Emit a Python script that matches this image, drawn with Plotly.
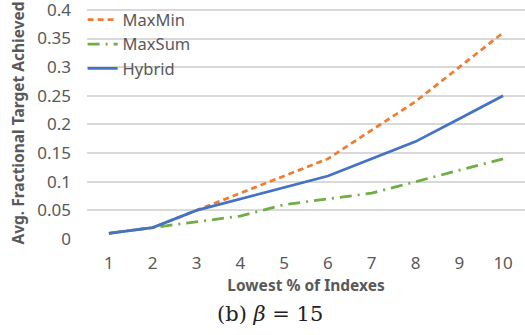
import plotly.graph_objects as go

categories = ["1", "2", "3", "4", "5", "6", "7", "8", "9", "10"]
maxmin = [0.01, 0.02, 0.05, 0.08, 0.11, 0.14, 0.19, 0.24, 0.30, 0.36]
maxsum = [0.01, 0.02, 0.03, 0.04, 0.06, 0.07, 0.08, 0.10, 0.12, 0.14]
hybrid = [0.01, 0.02, 0.05, 0.07, 0.09, 0.11, 0.14, 0.17, 0.21, 0.25]
y_ticks = [0, 0.05, 0.1, 0.15, 0.2, 0.25, 0.3, 0.35, 0.4]
y_tick_labels = ["0", "0.05", "0.1", "0.15", "0.2", "0.25", "0.3", "0.35", "0.4"]

fig = go.Figure()
fig.add_trace(go.Scatter(x=categories, y=maxmin, name="MaxMin", mode="lines",
                         line=dict(color="#ED7D31", width=2.75, dash="6px,4px")))
fig.add_trace(go.Scatter(x=categories, y=maxsum, name="MaxSum", mode="lines",
                         line=dict(color="#70AD47", width=2.75, dash="12px,6px,2px,6px")))
fig.add_trace(go.Scatter(x=categories, y=hybrid, name="Hybrid", mode="lines",
                         line=dict(color="#4472C4", width=2.75)))

font_family = "Noto Sans, Open Sans, Liberation Sans, sans-serif"
fig.update_layout(
    width=525, height=335,
    margin=dict(l=87, r=0, t=7, b=96, autoexpand=False),
    paper_bgcolor="white", plot_bgcolor="white",
    font=dict(family=font_family, color="#595959", size=17),
    showlegend=True,
    legend=dict(x=-0.01, y=1.02, xanchor="left", yanchor="top",
                bgcolor="rgba(0,0,0,0)", font=dict(size=16.5, color="#595959"),
                itemwidth=30, tracegroupgap=0),
    xaxis=dict(type="category", range=[-0.5, 9.5], showgrid=False, zeroline=False, showline=False,
               ticks="", tickfont=dict(size=17, color="#595959"), automargin=False,
               ticklabelstandoff=12, ticklabeloverflow="allow",
               title=dict(text="<b>Lowest % of Indexes</b>", font=dict(size=15.5, color="#595959"), standoff=4)),
    yaxis=dict(range=[0, 0.405], tickvals=y_ticks, ticktext=y_tick_labels,
               showgrid=True, gridcolor="#D9D9D9", gridwidth=1.5, zeroline=False,
               ticks="", tickfont=dict(size=17, color="#595959"), automargin=False,
               ticklabelstandoff=15, ticklabeloverflow="allow",
               title=dict(text="<b>Avg. Fractional Target Achieved</b>", font=dict(size=15.5, color="#595959"), standoff=8)),
)
# ensure the top gridline is drawn
fig.add_shape(type="line", xref="paper", yref="y", x0=0, x1=1, y0=y_ticks[-1], y1=y_ticks[-1],
              line=dict(color="#D9D9D9", width=1.5), layer="above")
fig.add_annotation(text="(b) <i>β</i> = 15", xref="paper", yref="paper", x=0.418, y=-0.265,
                   xanchor="center", yanchor="top", showarrow=False,
                   font=dict(family="DejaVu Serif, Liberation Serif, serif", size=21, color="#222222"))

fig.write_html("out.html", post_script="document.body.style.margin='0';",
               config={"displayModeBar": False})
